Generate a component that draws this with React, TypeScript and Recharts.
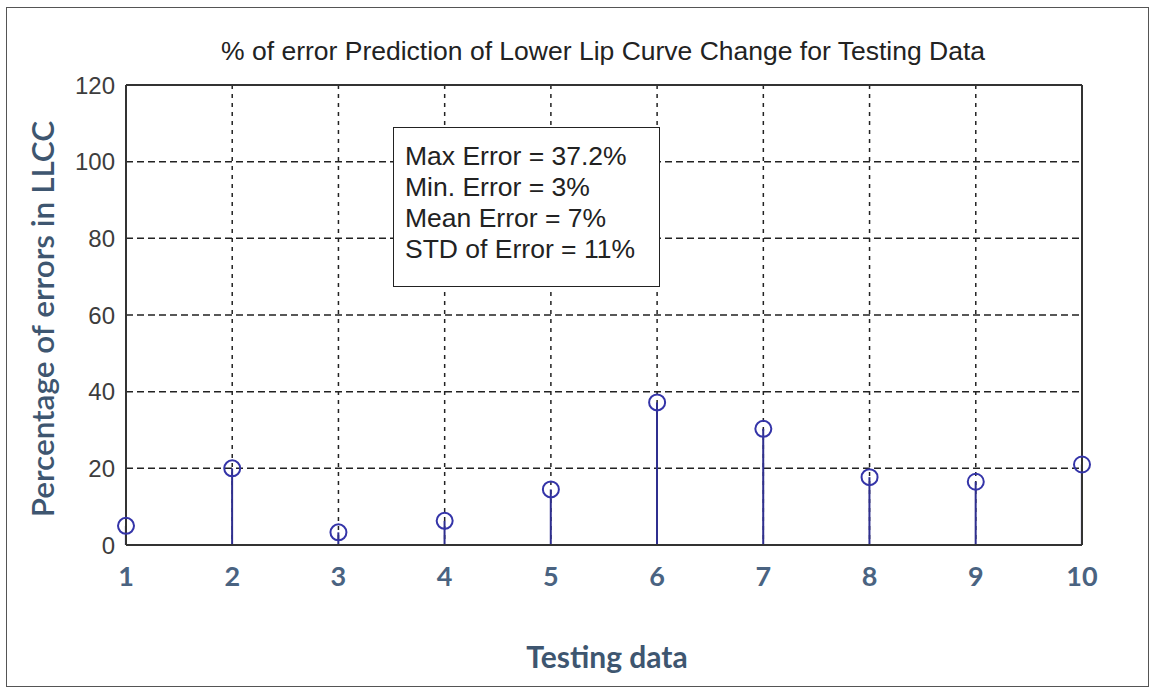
import React from "react";
import {
  Bar,
  CartesianGrid,
  ComposedChart,
  ReferenceLine,
  Scatter,
  XAxis,
  YAxis,
} from "recharts";

const testingData = [1, 2, 3, 4, 5, 6, 7, 8, 9, 10];
const errorPct = [5, 20, 3.3, 6.3, 14.5, 37.2, 30.3, 17.7, 16.5, 21];
const yTicks = [0, 20, 40, 60, 80, 100, 120];
const statLines = [
  "Max Error = 37.2%",
  "Min. Error = 3%",
  "Mean Error = 7%",
  "STD of Error = 11%",
];

const data = testingData.map((x, i) => ({ x, value: errorPct[i] }));

const stemColor = "#2f2f8f";
const labelColor = "#3e5670";

const Ring = (props: any) => (
  <circle cx={props.cx} cy={props.cy} r={8} fill="none" stroke="#3434a8" strokeWidth={2} />
);

export default function App() {
  return (
    <div style={{ position: "absolute", left: 0, top: 0, width: 1150, height: 689, background: "#fff" }}>
      {/* outer frame */}
      <div
        style={{
          position: "absolute",
          left: 6,
          top: 7,
          width: 1141,
          height: 678,
          border: "1.5px solid #555",
        }}
      />
      <div
        style={{
          position: "absolute",
          left: 0,
          width: 1206,
          top: 36,
          textAlign: "center",
          fontFamily: "'Liberation Sans', Arial, sans-serif",
          fontSize: 26.5,
          color: "#222",
          whiteSpace: "nowrap",
        }}
      >
        % of error Prediction of Lower Lip Curve Change for Testing Data
      </div>

      <ComposedChart
        width={1150}
        height={689}
        data={data}
        margin={{ top: 85, right: 68, bottom: 84, left: 0 }}
      >
        <CartesianGrid vertical={false} stroke="#222" strokeWidth={1.5} strokeDasharray="7 4" />
        <CartesianGrid horizontal={false} stroke="#222" strokeWidth={1.5} strokeDasharray="4 5" />
        <ReferenceLine y={120} stroke="#333" strokeWidth={2} />
        <ReferenceLine x={10} stroke="#333" strokeWidth={2} />
        <XAxis
          type="number"
          dataKey="x"
          domain={[1, 10]}
          ticks={testingData}
          height={60}
          axisLine={{ stroke: "#333", strokeWidth: 2 }}
          tickLine={false}
          tickMargin={16}
          tick={{ fill: "#4a6381", fontSize: 27, fontWeight: 700, fontFamily: "Lato, 'Open Sans', sans-serif" }}
        />
        <YAxis
          type="number"
          domain={[0, 120]}
          ticks={yTicks}
          width={126}
          axisLine={{ stroke: "#333", strokeWidth: 2 }}
          tickLine={false}
          tickMargin={5}
          tick={{ fill: "#3d3d3d", fontSize: 24, fontFamily: "'Liberation Sans', Arial, sans-serif" }}
        />
        <Bar dataKey="value" barSize={2} fill={stemColor} isAnimationActive={false} />
        <Scatter dataKey="value" shape={Ring} isAnimationActive={false} />
      </ComposedChart>

      <div
        style={{
          position: "absolute",
          left: 607 - 300,
          width: 600,
          top: 638,
          textAlign: "center",
          fontFamily: "Lato, 'Open Sans', sans-serif",
          fontWeight: 700,
          fontSize: 30,
          color: labelColor,
        }}
      >
        Testing data
      </div>
      <div
        style={{
          position: "absolute",
          left: 42 - 250,
          top: 319 - 20,
          width: 500,
          height: 40,
          lineHeight: "40px",
          textAlign: "center",
          transform: "rotate(-90deg)",
          fontFamily: "Lato, 'Open Sans', sans-serif",
          fontWeight: 600,
          fontSize: 31.5,
          color: labelColor,
          whiteSpace: "nowrap",
        }}
      >
        Percentage of errors in LLCC
      </div>

      {/* stats box */}
      <div
        style={{
          position: "absolute",
          left: 393,
          top: 127,
          width: 265,
          height: 158,
          boxSizing: "content-box",
          border: "1.5px solid #222",
          background: "#fff",
        }}
      >
        {statLines.map((s, i) => (
          <div
            key={i}
            style={{
              position: "absolute",
              left: 11,
              top: 13 + i * 31,
              lineHeight: "31px",
              fontFamily: "'Liberation Sans', Arial, sans-serif",
              fontSize: 26.5,
              color: "#222",
              whiteSpace: "nowrap",
            }}
          >
            {s}
          </div>
        ))}
      </div>
    </div>
  );
}
